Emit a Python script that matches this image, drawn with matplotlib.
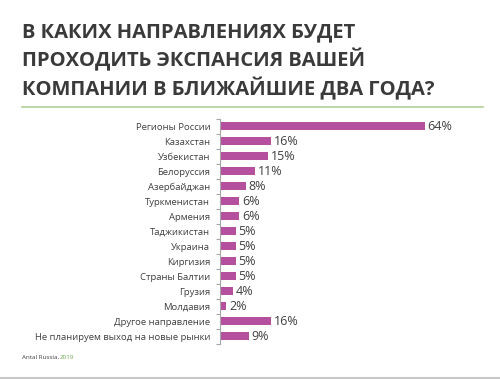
import matplotlib
matplotlib.use('Agg')
import matplotlib.pyplot as plt

plt.rcParams['font.family'] = ['Open Sans', 'DejaVu Sans']

# данные
categories = ['Регионы России', 'Казахстан', 'Узбекистан', 'Белоруссия', 'Азербайджан',
              'Туркменистан', 'Армения', 'Таджикистан', 'Украина', 'Киргизия',
              'Страны Балтии', 'Грузия', 'Молдавия', 'Другое направление',
              'Не планируем выход на новые рынки']
values = [64, 16, 15, 11, 8, 6, 6, 5, 5, 5, 5, 4, 2, 16, 9]

title = 'В КАКИХ НАПРАВЛЕНИЯХ БУДЕТ\nПРОХОДИТЬ ЭКСПАНСИЯ ВАШЕЙ\nКОМПАНИИ В БЛИЖАЙШИЕ ДВА ГОДА?'

fig = plt.figure(figsize=(5, 3.8), dpi=100)
ax = fig.add_axes([0.44, 0.096, 0.448, 0.592])

y = list(range(len(categories)))
ax.barh(y, values, height=0.5, color='#b5509f')
for i, v in enumerate(values):
    ax.text(v + 0.8, i, f'{v}%', va='center', ha='left', fontsize=9, color='#404040')

ax.set_ylim(len(categories) - 0.5, -0.5)
ax.set_xlim(0, 70)
ax.set_yticks(y)
ax.set_yticklabels(categories, fontsize=6.8, color='#404040')
ax.tick_params(axis='y', which='major', length=0, pad=7)
ax.set_yticks([i - 0.5 for i in range(len(categories) + 1)], minor=True)
ax.tick_params(axis='y', which='minor', length=3, color='#a6a6a6', width=0.8)
ax.set_xticks([])
for s in ['top', 'right', 'bottom']:
    ax.spines[s].set_visible(False)
ax.spines['left'].set_color('#a6a6a6')
ax.spines['left'].set_linewidth(0.8)

fig.text(0.044, 0.94, title, ha='left', va='top', fontsize=14.5, fontweight='bold',
         color='#3a3a3a', linespacing=1.3)
fig.add_artist(plt.Line2D([0.044, 0.966], [0.718, 0.718], color='#b3d19a', lw=1.2))

fig.text(0.044, 0.06, 'Antal Russia,', fontsize=4.5, color='#404040', ha='left', va='center')
fig.text(0.12, 0.06, '2019', fontsize=4.5, color='#6aa84f', ha='left', va='center')
fig.add_artist(plt.Line2D([0, 1], [0.005, 0.005], color='#c8c8c8', lw=1.5))

fig.savefig('out.png', dpi=100)
